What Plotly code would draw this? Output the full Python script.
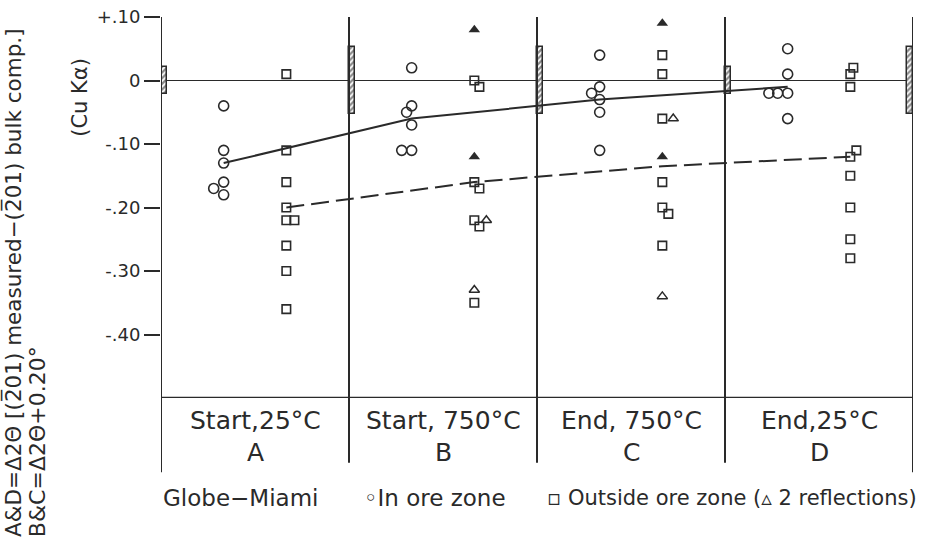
import plotly.graph_objects as go

# ---------------- data ----------------
categories = ["Start,25°C", "Start, 750°C", "End, 750°C", "End,25°C"]
letters = ["A", "B", "C", "D"]

# In ore zone (open circles): group index, value, small horizontal shift (fraction of panel)
ore_group = [0, 0, 0, 0, 0, 0,
             1, 1, 1, 1, 1, 1,
             2, 2, 2, 2, 2, 2,
             3, 3, 3, 3, 3, 3]
ore_value = [-0.04, -0.11, -0.13, -0.16, -0.17, -0.18,
             0.02, -0.04, -0.05, -0.07, -0.11, -0.11,
             0.04, -0.01, -0.02, -0.03, -0.05, -0.11,
             0.05, 0.01, -0.02, -0.02, -0.02, -0.06]
ore_shift = [0, 0, 0, 0, -0.053, 0,
             0, 0, -0.027, 0, -0.053, 0,
             0, 0, -0.043, 0, 0, 0,
             0, 0, -0.10, -0.053, 0, 0]

# Outside ore zone (open squares)
out_group = [0, 0, 0, 0, 0, 0, 0, 0, 0,
             1, 1, 1, 1, 1, 1, 1,
             2, 2, 2, 2, 2, 2, 2,
             3, 3, 3, 3, 3, 3, 3, 3, 3]
out_value = [0.01, -0.11, -0.16, -0.20, -0.22, -0.22, -0.26, -0.30, -0.36,
             0.00, -0.01, -0.16, -0.17, -0.22, -0.23, -0.35,
             0.04, 0.01, -0.06, -0.16, -0.20, -0.21, -0.26,
             0.02, 0.01, -0.01, -0.11, -0.12, -0.15, -0.20, -0.25, -0.28]
out_shift = [0, 0, 0, 0, 0, 0.043, 0, 0, 0,
             0, 0.027, 0, 0.027, 0, 0.027, 0,
             0, 0, 0, 0, 0, 0.032, 0,
             0.016, 0, 0, 0.032, 0, 0, 0, 0, 0]

# Outside ore zone, 2 reflections (open triangles)
tri_group = [1, 1, 2, 2]
tri_value = [-0.22, -0.33, -0.06, -0.34]
tri_shift = [0.064, 0, 0.058, 0]

# Filled triangles
ftri_group = [1, 1, 2, 2]
ftri_value = [0.08, -0.12, 0.09, -0.12]

# Mean curves
ore_mean = [-0.13, -0.06, -0.03, -0.01]
out_mean = [-0.20, -0.16, -0.135, -0.12]

# Hatched uncertainty bars at panel boundaries
hatch_pos = [0, 1, 2, 3, 4]
hatch_side = [1, 1, 1, 1, -1]
hatch_half = [0.022, 0.052, 0.052, 0.022, 0.052]

tick_vals = [0.10, 0.0, -0.10, -0.20, -0.30, -0.40]
tick_text = ["+.10", "0", "-.10", "-.20", "-.30", "-.40"]

ORE_OFF = 1 / 3
OUT_OFF = 2 / 3
INK = "#2a2a2a"
FONT = "DejaVu Sans"

fig = go.Figure()

# hatched bars
bw = 0.034
fig.add_trace(go.Bar(
    x=[p + s * bw / 2 for p, s in zip(hatch_pos, hatch_side)],
    y=[2 * h for h in hatch_half],
    base=[-h for h in hatch_half],
    width=[bw] * len(hatch_pos),
    marker=dict(color="white", line=dict(color=INK, width=1.5),
                pattern=dict(shape="/", fgcolor="#111", bgcolor="white", size=4, solidity=0.55)),
    showlegend=False, hoverinfo="skip"))

# mean lines
fig.add_trace(go.Scatter(x=[i + ORE_OFF for i in range(4)], y=ore_mean, mode="lines",
                         line=dict(color=INK, width=2), showlegend=False, hoverinfo="skip"))
fig.add_trace(go.Scatter(x=[i + OUT_OFF for i in range(4)], y=out_mean, mode="lines",
                         line=dict(color=INK, width=2, dash="18px,7px"), showlegend=False,
                         hoverinfo="skip"))

# points
fig.add_trace(go.Scatter(x=[g + ORE_OFF + s for g, s in zip(ore_group, ore_shift)], y=ore_value,
                         mode="markers", marker=dict(symbol="circle-open", size=10, color=INK,
                                                     line=dict(width=1.6)),
                         showlegend=False))
fig.add_trace(go.Scatter(x=[g + OUT_OFF + s for g, s in zip(out_group, out_shift)], y=out_value,
                         mode="markers", marker=dict(symbol="square-open", size=8.5, color=INK,
                                                     line=dict(width=1.6)),
                         showlegend=False))
fig.add_trace(go.Scatter(x=[g + OUT_OFF + s for g, s in zip(tri_group, tri_shift)], y=tri_value,
                         mode="markers", marker=dict(symbol="triangle-up-open", size=9, color=INK,
                                                     line=dict(width=1.5)),
                         showlegend=False))
fig.add_trace(go.Scatter(x=[g + OUT_OFF for g in ftri_group], y=ftri_value,
                         mode="markers", marker=dict(symbol="triangle-up", size=10, color=INK),
                         showlegend=False))

shapes = []
# zero line
shapes.append(dict(type="line", xref="x", yref="y", x0=0, x1=4, y0=0, y1=0,
                   line=dict(color=INK, width=1.2), layer="below"))
# bottom line
shapes.append(dict(type="line", xref="x", yref="y", x0=0, x1=4, y0=-0.5, y1=-0.5,
                   line=dict(color=INK, width=2.5)))
# vertical dividers
for i in range(5):
    shapes.append(dict(type="line", xref="x", yref="paper", x0=i, x1=i,
                       y0=-0.195 if i in (0, 4) else -0.17, y1=1.0,
                       line=dict(color=INK, width=2)))

annotations = []
for i, (c, l) in enumerate(zip(categories, letters)):
    annotations.append(dict(x=i + 0.5, y=-0.06, xref="x", yref="paper", text=c,
                            showarrow=False, font=dict(family=FONT, size=25, color=INK),
                            xanchor="center", yanchor="middle"))
    annotations.append(dict(x=i + 0.5, y=-0.142, xref="x", yref="paper", text=l,
                            showarrow=False, font=dict(family=FONT, size=25, color=INK),
                            xanchor="center", yanchor="middle"))

legend_items = [("Globe\u2212Miami", 0.0, 23),
                ("\u25e6In ore zone", 0.267, 23),
                ("\u25ab Outside ore zone (\u25b5 2 reflections)", 0.511, 21)]
for txt, xp, fs in legend_items:
    annotations.append(dict(x=xp, y=-0.262, xref="paper", yref="paper", text=txt,
                            showarrow=False, font=dict(family=FONT, size=fs, color=INK),
                            xanchor="left", yanchor="middle"))

# y-axis title (three rotated pieces)
annotations.append(dict(x=-0.196, y=-0.37, xref="paper", yref="paper",
                        text="A&D=\u03942\u0398 [(2\u030501) measured\u2212(2\u030501) bulk comp.]",
                        textangle=-90, showarrow=False,
                        font=dict(family=FONT, size=21.5, color=INK),
                        xanchor="center", yanchor="bottom"))
annotations.append(dict(x=-0.164, y=-0.37, xref="paper", yref="paper",
                        text="B&C=\u03942\u0398+0.20\u00b0", textangle=-90, showarrow=False,
                        font=dict(family=FONT, size=22, color=INK),
                        xanchor="center", yanchor="bottom"))
annotations.append(dict(x=-0.108, y=0.79, xref="paper", yref="paper",
                        text="(Cu K\u03b1)", textangle=-90, showarrow=False,
                        font=dict(family=FONT, size=21, color=INK),
                        xanchor="center", yanchor="middle"))

fig.update_layout(
    width=926, height=546,
    margin=dict(l=161, r=13, t=17, b=148),
    paper_bgcolor="white", plot_bgcolor="white",
    shapes=shapes, annotations=annotations,
    showlegend=False, bargap=0,
    xaxis=dict(range=[0, 4], visible=False, showgrid=False, zeroline=False, fixedrange=True),
    yaxis=dict(range=[-0.5, 0.1], tickvals=tick_vals, ticktext=tick_text,
               ticks="outside", ticklen=16, tickwidth=1.5, tickcolor=INK,
               showline=False, showgrid=False, zeroline=False, automargin=False,
               tickfont=dict(family=FONT, size=18, color=INK), fixedrange=True),
)

fig.write_html("out.html", config={"displayModeBar": False},
               post_script="document.body.style.margin='0';document.body.style.overflow='hidden';")
